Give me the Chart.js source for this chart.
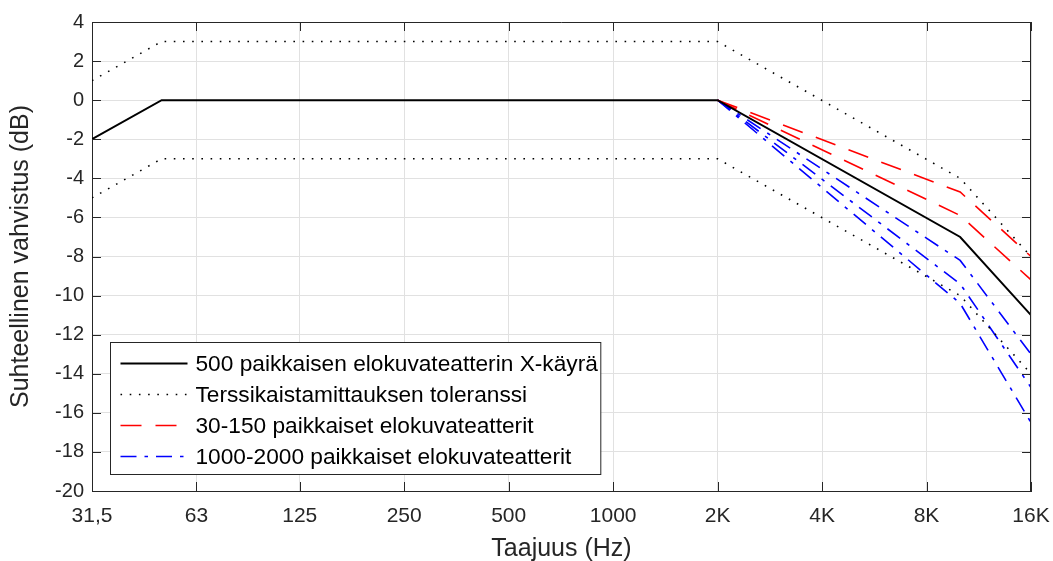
<!DOCTYPE html>
<html>
<head>
<meta charset="utf-8">
<script src="https://cdn.jsdelivr.net/npm/chart.js@4/dist/chart.umd.min.js"></script>
<style>
  html, body { margin: 0; padding: 0; background: #fff; }
  #wrap { width: 1053px; height: 561px; }
</style>
</head>
<body>
<div id="wrap"><canvas id="chart"></canvas></div>
<script>
// X-käyrä ja huonekoon korjaukset (taajuus Hz, vahvistus dB)
const xTickValues = [31.5, 63, 125, 250, 500, 1000, 2000, 4000, 8000, 16000];
const xTickLabels = ['31,5', '63', '125', '250', '500', '1000', '2K', '4K', '8K', '16K'];

const curveFreqs = [31.5, 50, 2000, 10000, 16000];
const xCurve500 = [-2, 0, 0, -7, -11];
const tolUpper = [1, 3, 3, -4, -8];
const tolLower = [-5, -3, -3, -10, -14];

const hfFreqs = [2000, 10000, 16000];
const small30 = [0, -4.7, -8];
const small150 = [0, -5.9, -9.2];
const large1000 = [0, -8.2, -13];
const large1500 = [0, -9.4, -14.7];
const large2000 = [0, -10.4, -16.5];

const legendLabels = [
    '500 paikkaisen elokuvateatterin X-käyrä',
    'Terssikaistamittauksen toleranssi',
    '30-150 paikkaiset elokuvateatterit',
    '1000-2000 paikkaiset elokuvateatterit'
];

const FONT = '"Liberation Sans", Arial, Helvetica, sans-serif';
const AXIS = '#262626';

function pts(xs, ys) {
    return xs.map((x, i) => ({x: x, y: ys[i]}));
}

const styles = {
    solid: {borderColor: '#000', borderWidth: 2, borderDash: []},
    dotted: {borderColor: '#000', borderWidth: 1.6, borderDash: [1.6, 7.6]},
    dashed: {borderColor: '#ff0000', borderWidth: 1.6, borderDash: [21, 14]},
    dashdot: {borderColor: '#0000ff', borderWidth: 1.6, borderDash: [16, 8, 3.5, 8]}
};

function ds(data, style, legendIdx) {
    return Object.assign({
        data: data,
        pointRadius: 0,
        tension: 0,
        fill: false,
        legendIdx: legendIdx,
        label: legendIdx >= 0 ? legendLabels[legendIdx] : ''
    }, styles[style]);
}

// box + inner ticks like the original
const framePlugin = {
    id: 'frame',
    afterDraw(chart) {
        const ctx = chart.ctx;
        const a = chart.chartArea;
        const xs = chart.scales.x, ys = chart.scales.y;
        ctx.save();
        ctx.strokeStyle = AXIS;
        ctx.lineWidth = 1;
        ctx.beginPath();
        ctx.moveTo(a.left, a.top + 0.5);
        ctx.lineTo(a.right, a.top + 0.5);
        ctx.moveTo(a.right - 0.5, a.top);
        ctx.lineTo(a.right - 0.5, a.bottom);
        const tl = 9;
        xs.ticks.forEach(t => {
            const px = Math.round(xs.getPixelForValue(t.value)) + 0.5;
            ctx.moveTo(px, a.bottom); ctx.lineTo(px, a.bottom - tl);
            ctx.moveTo(px, a.top); ctx.lineTo(px, a.top + tl);
        });
        ys.ticks.forEach(t => {
            const py = Math.round(ys.getPixelForValue(t.value)) + 0.5;
            ctx.moveTo(a.left, py); ctx.lineTo(a.left + tl, py);
            ctx.moveTo(a.right, py); ctx.lineTo(a.right - tl, py);
        });
        ctx.stroke();
        ctx.restore();
    }
};

const legendPlugin = {
    id: 'boxLegend',
    afterDraw(chart) {
        const ctx = chart.ctx;
        const a = chart.chartArea;
        const items = chart.data.datasets.filter(d => d.legendIdx >= 0);
        ctx.save();
        ctx.font = '22.7px ' + FONT;
        const textW = Math.max(...items.map(d => ctx.measureText(d.label).width));
        const left = a.left + 18.5, bottom = a.bottom - 16.5;
        const rowH = 31, sampleW = 67, textGap = 8;
        const h = rowH * items.length + 8;
        const w = 10 + sampleW + textGap + textW + 3;
        const top = bottom - h;
        ctx.fillStyle = '#fff';
        ctx.fillRect(left, top, w, h);
        ctx.strokeStyle = AXIS;
        ctx.lineWidth = 1;
        ctx.strokeRect(left, top, w, h);
        items.forEach((d, i) => {
            const cy = top + 21 + i * rowH;
            ctx.strokeStyle = d.borderColor;
            ctx.lineWidth = d.borderWidth;
            ctx.setLineDash(d.borderDash);
            ctx.beginPath();
            ctx.moveTo(left + 10, cy);
            ctx.lineTo(left + 10 + sampleW, cy);
            ctx.stroke();
            ctx.setLineDash([]);
            ctx.fillStyle = '#000';
            ctx.textBaseline = 'middle';
            ctx.textAlign = 'left';
            ctx.fillText(d.label, left + 10 + sampleW + textGap, cy + 1);
        });
        ctx.restore();
    }
};

const config = {
    type: 'line',
    data: {
        datasets: [
            ds(pts(curveFreqs, xCurve500), 'solid', 0),
            ds(pts(curveFreqs, tolUpper), 'dotted', 1),
            ds(pts(curveFreqs, tolLower), 'dotted', -1),
            ds(pts(hfFreqs, small30), 'dashed', 2),
            ds(pts(hfFreqs, small150), 'dashed', -1),
            ds(pts(hfFreqs, large1000), 'dashdot', 3),
            ds(pts(hfFreqs, large1500), 'dashdot', -1),
            ds(pts(hfFreqs, large2000), 'dashdot', -1)
        ]
    },
    options: {
        responsive: true,
        maintainAspectRatio: false,
        animation: false,
        layout: {padding: {left: 0, right: 22, top: 22, bottom: 0}},
        plugins: {
            legend: {display: false},
            tooltip: {enabled: false}
        },
        scales: {
            x: {
                type: 'logarithmic',
                min: 31.5,
                max: 16000,
                afterBuildTicks: scale => {
                    scale.ticks = xTickValues.map(v => ({value: v}));
                },
                afterFit: scale => {
                    scale.height = 70;
                    scale.paddingLeft = 0;
                    scale.paddingRight = 0;
                },
                ticks: {
                    autoSkip: false,
                    maxRotation: 0,
                    padding: 13,
                    color: '#262626',
                    font: {family: FONT, size: 21},
                    callback: (v, i) => xTickLabels[i]
                },
                grid: {color: '#e1e1e1', drawTicks: false},
                border: {color: AXIS, width: 1},
                title: {
                    display: true,
                    text: 'Taajuus (Hz)',
                    color: '#262626',
                    font: {family: FONT, size: 25, lineHeight: 1.0},
                    padding: {top: 0, bottom: -1}
                }
            },
            y: {
                type: 'linear',
                min: -20,
                max: 4,
                afterFit: scale => {
                    scale.width = 92;
                    scale.paddingTop = 0;
                    scale.paddingBottom = 0;
                },
                ticks: {
                    stepSize: 2,
                    padding: 8,
                    color: '#262626',
                    font: {family: FONT, size: 20}
                },
                grid: {color: '#e1e1e1', drawTicks: false},
                border: {color: AXIS, width: 1},
                title: {
                    display: true,
                    text: 'Suhteellinen vahvistus (dB)',
                    color: '#262626',
                    font: {family: FONT, size: 25, lineHeight: 1.0},
                    padding: {top: 9, bottom: 0}
                }
            }
        }
    },
    plugins: [framePlugin, legendPlugin]
};

new Chart(document.getElementById('chart').getContext('2d'), config);
</script>
</body>
</html>
